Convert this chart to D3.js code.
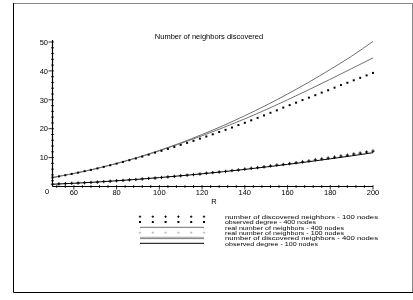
<!DOCTYPE html>
<html>
<head>
<meta charset="utf-8">
<script src="https://cdn.jsdelivr.net/npm/d3@7"></script>
<style>
  body { margin: 0; background: #fff; }
  svg { display: block; font-family: "Liberation Sans", Arial, sans-serif; will-change: transform; -webkit-font-smoothing: antialiased; }
</style>
</head>
<body>
<svg width="413" height="300"></svg>
<script>
'use strict';

// R values: every 3 for the point series, every 10 for the line series
const rPoints = [50,53,56,59,62,65,68,71,74,77,80,83,86,89,92,95,98,101,104,107,110,113,116,119,122,125,128,131,134,137,140,143,146,149,152,155,158,161,164,167,170,173,176,179,182,185,188,191,194,197,200];
const rLines = [50,60,70,80,90,100,110,120,130,140,150,160,170,180,190,200];

// number of discovered neighbors - 100 nodes (black crosses)
const discovered100 = [0.8,0.9,1.0,1.1,1.2,1.3,1.4,1.5,1.7,1.8,2.0,2.1,2.3,2.4,2.6,2.8,2.9,3.1,3.3,3.5,3.7,3.9,4.1,4.3,4.6,4.8,5.0,5.2,5.5,5.7,6.0,6.3,6.5,6.8,7.1,7.4,7.6,7.9,8.2,8.5,8.8,9.2,9.5,9.8,10.1,10.5,10.8,11.2,11.5,11.9,12.2];
// observed degree - 400 nodes (black dots)
const observed400 = [3.1,3.5,3.9,4.35,4.8,5.3,5.75,6.25,6.8,7.35,7.9,8.5,9.1,9.7,10.35,11.0,11.7,12.35,13.0,13.7,14.4,15.1,15.8,16.55,17.3,18.05,18.85,19.6,20.4,21.25,22.05,22.9,23.75,24.6,25.5,26.35,27.3,28.15,29.0,29.9,30.75,31.6,32.5,33.3,34.2,35.1,35.9,36.75,37.6,38.45,39.3];
// real number of neighbors - 400 nodes (gray line)
const real400 = [3.1,4.5,6.1,8.0,10.1,12.5,15.1,18.0,21.1,24.5,28.1,32.0,36.1,40.5,45.1,50.2];
// real number of neighbors - 100 nodes (light gray crosses)
const real100 = [0.8,0.9,1.0,1.1,1.2,1.3,1.4,1.6,1.7,1.9,2.0,2.2,2.3,2.5,2.6,2.8,3.0,3.2,3.4,3.6,3.8,4.0,4.2,4.4,4.7,4.9,5.1,5.4,5.6,5.9,6.1,6.4,6.7,6.9,7.2,7.5,7.8,8.1,8.4,8.7,9.0,9.4,9.7,10.0,10.4,10.7,11.0,11.4,11.8,12.1,12.5];
// number of discovered neighbors - 400 nodes (gray line)
const discovered400 = [3.1,4.5,6.1,7.95,10.0,12.35,14.9,17.55,20.4,23.4,26.6,30.0,33.5,37.1,40.8,44.5];
// observed degree - 100 nodes (black line)
const observed100 = [0.78,1.12,1.52,1.98,2.5,3.08,3.71,4.39,5.13,5.92,6.76,7.65,8.59,9.58,10.6,11.7];

const xTicks = [60,80,100,120,140,160,180,200];
const yTicks = [10,20,30,40,50];
const titleText = "Number of neighbors discovered";
const xLabel = "R";
const legendLabels = [
  "number of discovered neighbors - 100 nodes",
  "observed degree - 400 nodes",
  "real number of neighbors - 400 nodes",
  "real number of neighbors - 100 nodes",
  "number of discovered neighbors - 400 nodes",
  "observed degree - 100 nodes"
];

const svg = d3.select("svg");
const fs = 7.5;

const x = d3.scaleLinear().domain([50, 200]).range([52.5, 373]);
const y = d3.scaleLinear().domain([0, 50]).range([186.5, 42]);

// frame
svg.append("line").attr("x1", 13.5).attr("x2", 413).attr("y1", 3.5).attr("y2", 3.5).attr("stroke", "#888");
svg.append("line").attr("x1", 412.5).attr("x2", 412.5).attr("y1", 3.5).attr("y2", 292.5).attr("stroke", "#888");
svg.append("line").attr("x1", 13.5).attr("x2", 13.5).attr("y1", 3).attr("y2", 292.5).attr("stroke", "#000");
svg.append("line").attr("x1", 13.5).attr("x2", 413).attr("y1", 292.5).attr("y2", 292.5).attr("stroke", "#000");

// title
svg.append("text").attr("x", 209).attr("y", 38.5).attr("text-anchor", "middle")
  .attr("font-size", fs).text(titleText);

// series styles, in legend order
const crossPath = "M-1.6,0H1.6M0,-1.6V1.6";
const series = [
  {xs: rPoints, ys: discovered100, kind: "cross", color: "#000"},
  {xs: rPoints, ys: observed400, kind: "dot", color: "#000"},
  {xs: rLines, ys: real400, kind: "line", color: "#707070", width: 1},
  {xs: rPoints, ys: real100, kind: "cross", color: "#bbb"},
  {xs: rLines, ys: discovered400, kind: "line", color: "#707070", width: 1},
  {xs: rLines, ys: observed100, kind: "line", color: "#000", width: 1}
];

const line = d3.line()
  .x(function(d) { return x(d[0]); })
  .y(function(d) { return y(d[1]); })
  .curve(d3.curveMonotoneX);

const plot = svg.append("g").attr("class", "plot");
// draw in reverse so the black marks end up on top
[3, 5, 4, 2, 1, 0].forEach(function(i) {
  const s = series[i];
  const pts = s.xs.map(function(r, j) { return [r, s.ys[j]]; });
  if (s.kind === "line") {
    plot.append("path").datum(pts)
      .attr("fill", "none").attr("stroke", s.color).attr("stroke-width", s.width)
      .attr("d", line);
  } else if (s.kind === "cross") {
    plot.selectAll(null).data(pts).enter().append("path")
      .attr("transform", function(d) { return "translate(" + x(d[0]) + "," + y(d[1]) + ")"; })
      .attr("d", crossPath).attr("stroke", s.color).attr("stroke-width", 0.9).attr("fill", "none");
  } else {
    plot.selectAll(null).data(pts).enter().append("rect")
      .attr("x", function(d) { return x(d[0]) - 1; })
      .attr("y", function(d) { return y(d[1]) - 1; })
      .attr("width", 2).attr("height", 2).attr("fill", s.color);
  }
});

// x axis
const xAxis = svg.append("g").attr("class", "xaxis");
xAxis.append("line").attr("x1", x(50)).attr("x2", x(200)).attr("y1", y(0)).attr("y2", y(0))
  .attr("stroke", "#000").attr("stroke-width", 1.2);
const xMinor = d3.range(52, 201, 4).filter(function(v) { return v % 20 !== 0; });
xAxis.selectAll(".minor").data(xMinor).enter().append("line")
  .attr("x1", function(d) { return x(d); }).attr("x2", function(d) { return x(d); })
  .attr("y1", y(0) - 1.5).attr("y2", y(0) + 1.5).attr("stroke", "#000").attr("stroke-width", 0.8);
xAxis.selectAll(".major").data(xTicks).enter().append("line")
  .attr("x1", function(d) { return x(d); }).attr("x2", function(d) { return x(d); })
  .attr("y1", y(0) - 1.5).attr("y2", y(0) + 3).attr("stroke", "#000").attr("stroke-width", 0.8);
xAxis.selectAll(".lab").data(xTicks).enter().append("text")
  .attr("x", function(d) { return x(d); }).attr("y", 195)
  .attr("text-anchor", "middle").attr("font-size", fs).text(function(d) { return d; });
svg.append("text").attr("x", 214).attr("y", 204).attr("text-anchor", "middle")
  .attr("font-size", fs).text(xLabel);

// y axis
const yAxis = svg.append("g").attr("class", "yaxis");
yAxis.append("line").attr("x1", x(50)).attr("x2", x(50)).attr("y1", y(0)).attr("y2", 40)
  .attr("stroke", "#000").attr("stroke-width", 1.2);
const yMinor = d3.range(2, 51, 2).filter(function(v) { return v % 10 !== 0; });
yAxis.selectAll(".minor").data(yMinor).enter().append("line")
  .attr("x1", x(50) - 1.5).attr("x2", x(50) + 1.5)
  .attr("y1", function(d) { return y(d); }).attr("y2", function(d) { return y(d); })
  .attr("stroke", "#000").attr("stroke-width", 0.8);
yAxis.selectAll(".major").data(yTicks).enter().append("line")
  .attr("x1", x(50) - 4).attr("x2", x(50) + 1.5)
  .attr("y1", function(d) { return y(d); }).attr("y2", function(d) { return y(d); })
  .attr("stroke", "#000").attr("stroke-width", 0.8);
yAxis.selectAll(".lab").data(yTicks).enter().append("text")
  .attr("x", 48).attr("y", function(d) { return y(d) + 2.7; })
  .attr("text-anchor", "end").attr("font-size", fs).text(function(d) { return d; });
svg.append("text").attr("x", 47).attr("y", 193.5).attr("text-anchor", "middle")
  .attr("font-size", fs).text("0");

// legend (rows are very tight in the original, so the text is squeezed vertically)
const legendY = [216.7, 222, 227.3, 232.7, 238, 243.3];
const legendWidth = [153, 91, 119, 119, 153, 93];
const symX = d3.scaleLinear().domain([0, 5]).range([140, 204]);
const legend = svg.append("g").attr("class", "legend");
series.forEach(function(s, i) {
  const ly = legendY[i];
  if (s.kind === "line") {
    if (i === 4) {
      legend.append("line").attr("x1", 140).attr("x2", 204).attr("y1", ly - 0.7).attr("y2", ly - 0.7)
        .attr("stroke", "#999").attr("stroke-width", 0.9);
      legend.append("line").attr("x1", 140).attr("x2", 204).attr("y1", ly + 0.6).attr("y2", ly + 0.6)
        .attr("stroke", "#707070").attr("stroke-width", 0.9);
    } else {
      legend.append("line").attr("x1", 140).attr("x2", 204).attr("y1", ly).attr("y2", ly)
        .attr("stroke", s.color).attr("stroke-width", 1);
    }
  } else {
    legend.selectAll(null).data(d3.range(6)).enter().append(s.kind === "cross" ? "path" : "rect")
      .each(function(k) {
        const el = d3.select(this);
        if (s.kind === "cross") {
          el.attr("transform", "translate(" + symX(k) + "," + ly + ")")
            .attr("d", "M-1.2,0H1.2M0,-1.2V1.2").attr("stroke", s.color).attr("stroke-width", 0.9);
        } else {
          el.attr("x", symX(k) - 1).attr("y", ly - 1).attr("width", 2).attr("height", 2)
            .attr("fill", s.color);
        }
      });
  }
  legend.append("text")
    .attr("transform", "translate(225," + (ly + 2.2) + ") scale(1,0.8)")
    .attr("font-size", 7.2)
    .attr("textLength", legendWidth[i]).attr("lengthAdjust", "spacingAndGlyphs")
    .text(legendLabels[i]);
});
</script>
</body>
</html>
